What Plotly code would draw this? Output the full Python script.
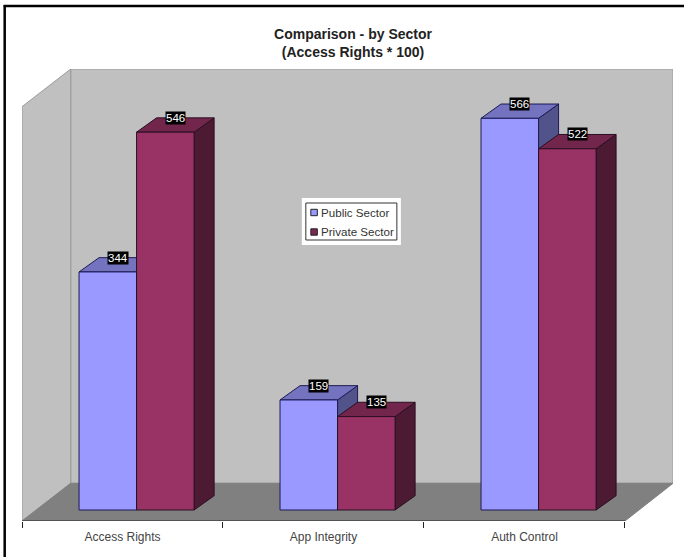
import plotly.graph_objects as go

categories = ["Access Rights", "App Integrity", "Auth Control"]
public_sector = [344, 159, 566]
private_sector = [546, 135, 522]
series_names = ["Public Sector", "Private Sector"]
title_lines = ["Comparison - by Sector", "(Access Rights * 100)"]

W, H = 684, 558
X0, X3 = 22.3, 625.0          # front plane, px
Y0, YTOP = 521.0, 69.0        # floor front edge / wall top, px
PX_X = (X3 - X0) / 3
PX_Y = 0.692
XMAX = (673.0 - X0) / PX_X
YMAX = (Y0 - YTOP) / PX_Y
DX_FLOOR, DY_FLOOR = 48.7 / PX_X, 37.7 / PX_Y   # depth of the floor
DX_BAR, DY_BAR = 20.0 / PX_X, 14.3 / PX_Y       # depth of a bar
BASE = 11.0 / PX_Y            # bar base above the floor's front edge
SHIFT = 0.07                  # bars sit half way into the floor
BW = 57.5 / PX_X
FONT = "Liberation Sans, Arial"

def poly(pts, fill, line=None, w=1):
    d = "M " + " L ".join(f"{x:.4f} {y:.4f}" for x, y in pts) + " Z"
    return dict(type="path", path=d, xref="x", yref="y", layer="below",
                fillcolor=fill, line=dict(color=line or fill, width=w))

shapes = [
    # back wall, left wall, floor
    poly([(DX_FLOOR, DY_FLOOR), (XMAX, DY_FLOOR), (XMAX, YMAX), (DX_FLOOR, YMAX)], "#C0C0C0", "#9a9a9a"),
    poly([(0, 0), (DX_FLOOR, DY_FLOOR), (DX_FLOOR, YMAX), (0, YMAX - DY_FLOOR)], "#C0C0C0", "#9a9a9a"),
    poly([(0, 0), (3, 0), (XMAX, DY_FLOOR), (DX_FLOOR, DY_FLOOR)], "#808080", "#808080"),
]
EDGE_PUB, EDGE_PRI = "#1d1a55", "#2a0f22"
for i in range(3):
    c = i + 0.5 + SHIFT
    for left, v, top, side, edge in (
        (c - BW, public_sector[i], "#7373BF", "#53538C", EDGE_PUB),
        (c, private_sector[i], "#73264C", "#4D1A33", EDGE_PRI),
    ):
        h = BASE + v
        r = left + BW
        shapes.append(poly([(r, BASE), (r + DX_BAR, BASE + DY_BAR), (r + DX_BAR, h + DY_BAR), (r, h)], side, edge))
        shapes.append(poly([(left, h), (r, h), (r + DX_BAR, h + DY_BAR), (left + DX_BAR, h + DY_BAR)], top, edge))

# axis line along the front edge of the floor
shapes.append(dict(type="line", xref="x", yref="y", x0=0, x1=3, y0=0, y1=0, line=dict(color="#222", width=1)))

def pxx(p): return (p - X0) / (673 - X0)
def pxy(p): return (Y0 - p) / 452

# photo frame
shapes += [
    dict(type="line", xref="paper", yref="paper", x0=pxx(5), x1=pxx(5), y0=pxy(557), y1=pxy(5),
         line=dict(color="#000", width=2.5)),
    dict(type="line", xref="paper", yref="paper", x0=pxx(4), x1=pxx(684), y0=pxy(6), y1=pxy(6),
         line=dict(color="#000", width=2.5)),
]

fig = go.Figure()
for name, vals, col, edge in ((series_names[0], public_sector, "#9999FF", EDGE_PUB),
                              (series_names[1], private_sector, "#993366", EDGE_PRI)):
    fig.add_bar(x=[i + 0.5 + SHIFT for i in range(3)], y=vals, base=[BASE] * 3, name=name,
                marker=dict(color=col, line=dict(color=edge, width=1)), showlegend=False)

annotations = []
for i in range(3):
    c = i + 0.5 + SHIFT
    for left, v in ((c - BW, public_sector[i]), (c, private_sector[i])):
        annotations.append(dict(x=left + BW / 2 + DX_BAR / 2, y=BASE + v + DY_BAR, xref="x", yref="y",
                                text=str(v), showarrow=False, bgcolor="#000", borderpad=0,
                                yanchor="middle", xanchor="center",
                                font=dict(family=FONT, size=11.5, color="#fff")))

# legend box
shapes += [
    dict(type="rect", xref="paper", yref="paper", x0=pxx(302), x1=pxx(401), y0=pxy(245), y1=pxy(198),
         fillcolor="#fff", line=dict(width=0)),
    dict(type="rect", xref="paper", yref="paper", x0=pxx(306), x1=pxx(397), y0=pxy(240), y1=pxy(203),
         fillcolor="#fff", line=dict(color="#333", width=1)),
]
for k, (name, col, ym) in enumerate(((series_names[0], "#9999FF", 212.5), (series_names[1], "#7A2A52", 232))):
    shapes.append(dict(type="rect", xref="paper", yref="paper", x0=pxx(311), x1=pxx(317.5), y0=pxy(ym + 3.2), y1=pxy(ym - 3.2),
                       fillcolor=col, line=dict(color="#222", width=1)))
    annotations.append(dict(x=pxx(320.5), y=pxy(ym), xref="paper", yref="paper", xanchor="left", yanchor="middle",
                            text=name, showarrow=False, borderpad=0,
                            font=dict(family=FONT, size=11.6, color="#333")))

fig.update_layout(
    width=W, height=H, autosize=False,
    margin=dict(l=X0, r=W - 673, t=YTOP, b=H - Y0, pad=0),
    paper_bgcolor="#fff", plot_bgcolor="rgba(0,0,0,0)",
    barmode="group", bargap=1 - 2 * BW, bargroupgap=0,
    title=dict(text="<br>".join(title_lines), x=353 / W, xanchor="center", y=1 - 39 / H, yanchor="top",
               font=dict(family=FONT, size=14, color="#222", weight="bold")),
    xaxis=dict(range=[0, XMAX], tickmode="array", tickvals=[i + 0.5 for i in range(3)], ticktext=categories,
               ticks="", showgrid=False, zeroline=False, showline=False, ticklabelstandoff=7,
               tickfont=dict(family=FONT, size=12, color="#444"),
               minor=dict(tickmode="array", tickvals=[0, 1, 2, 3], ticks="outside", ticklen=6, tickcolor="#222", tickwidth=1, showgrid=False)),
    yaxis=dict(range=[0, YMAX], visible=False, showgrid=False, zeroline=False),
    shapes=shapes, annotations=annotations, showlegend=False,
)
fig.write_html("out.html", config={"displayModeBar": False},
               post_script="document.body.style.margin='0';document.documentElement.style.overflow='hidden';")
